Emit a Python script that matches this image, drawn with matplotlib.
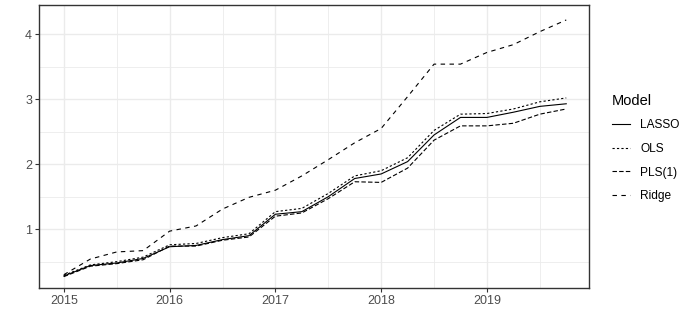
import numpy as np
import matplotlib
matplotlib.use("Agg")
import matplotlib.pyplot as plt
from matplotlib.ticker import MultipleLocator

plt.rcParams['font.family'] = ['Liberation Sans', 'DejaVu Sans']

# quarterly dates 2015 Q1 .. 2019 Q4
years = [2015.0, 2015.25, 2015.5, 2015.75, 2016.0, 2016.25, 2016.5, 2016.75,
         2017.0, 2017.25, 2017.5, 2017.75, 2018.0, 2018.25, 2018.5, 2018.75,
         2019.0, 2019.25, 2019.5, 2019.75]

lasso = [0.28, 0.44, 0.48, 0.55, 0.73, 0.75, 0.84, 0.90, 1.23, 1.27, 1.50, 1.78,
         1.85, 2.04, 2.45, 2.72, 2.72, 2.80, 2.89, 2.93]
ols = [0.29, 0.45, 0.50, 0.57, 0.76, 0.78, 0.87, 0.93, 1.27, 1.32, 1.55, 1.82,
       1.90, 2.10, 2.52, 2.77, 2.78, 2.85, 2.96, 3.02]
pls1 = [0.27, 0.43, 0.47, 0.53, 0.74, 0.74, 0.83, 0.88, 1.20, 1.25, 1.47, 1.73,
        1.72, 1.94, 2.37, 2.59, 2.59, 2.63, 2.77, 2.85]
ridge = [0.30, 0.54, 0.65, 0.67, 0.97, 1.05, 1.31, 1.49, 1.60, 1.82, 2.07, 2.33,
         2.55, 3.04, 3.54, 3.54, 3.72, 3.84, 4.04, 4.22]

models = ["LASSO", "OLS", "PLS(1)", "Ridge"]
series = [lasso, ols, pls1, ridge]
dashes = [None, (2, 2), (4, 2), (4, 4)]

fig = plt.figure(figsize=(6.96, 3.34), dpi=100)
ax = fig.add_axes([39/696, 1 - 288/334, 550/696, 283/334])

for name, vals, d in zip(models, series, dashes):
    if d is None:
        ax.plot(years, vals, color="black", lw=0.8, label=name)
    else:
        ax.plot(years, vals, color="black", lw=0.8, dashes=d, label=name)

ax.set_xlim(2014.765, 2019.965)
ax.set_ylim(0.095, 4.45)
ax.xaxis.set_major_locator(MultipleLocator(1))
ax.xaxis.set_minor_locator(MultipleLocator(0.5))
ax.yaxis.set_major_locator(MultipleLocator(1))
ax.yaxis.set_minor_locator(MultipleLocator(0.5))
ax.set_xticklabels([], minor=True)

ax.grid(which="major", color="#EBEBEB", lw=1.0)
ax.grid(which="minor", color="#EBEBEB", lw=0.6)
ax.set_axisbelow(True)
for s in ax.spines.values():
    s.set_color("#333333")
    s.set_linewidth(1.0)
ax.tick_params(which="major", length=3, width=0.8, color="#333333",
               labelsize=9, labelcolor="#4D4D4D", pad=2)
ax.tick_params(which="minor", length=0)

leg = ax.legend(loc="upper left", bbox_to_anchor=(601/696, 1 - 83/334),
                bbox_transform=fig.transFigure, frameon=False, title="Model",
                fontsize=8.6, title_fontsize=10.5, handlelength=1.5,
                handletextpad=0.9, labelspacing=0.97, alignment="left")

fig.savefig("out.png", dpi=100)
